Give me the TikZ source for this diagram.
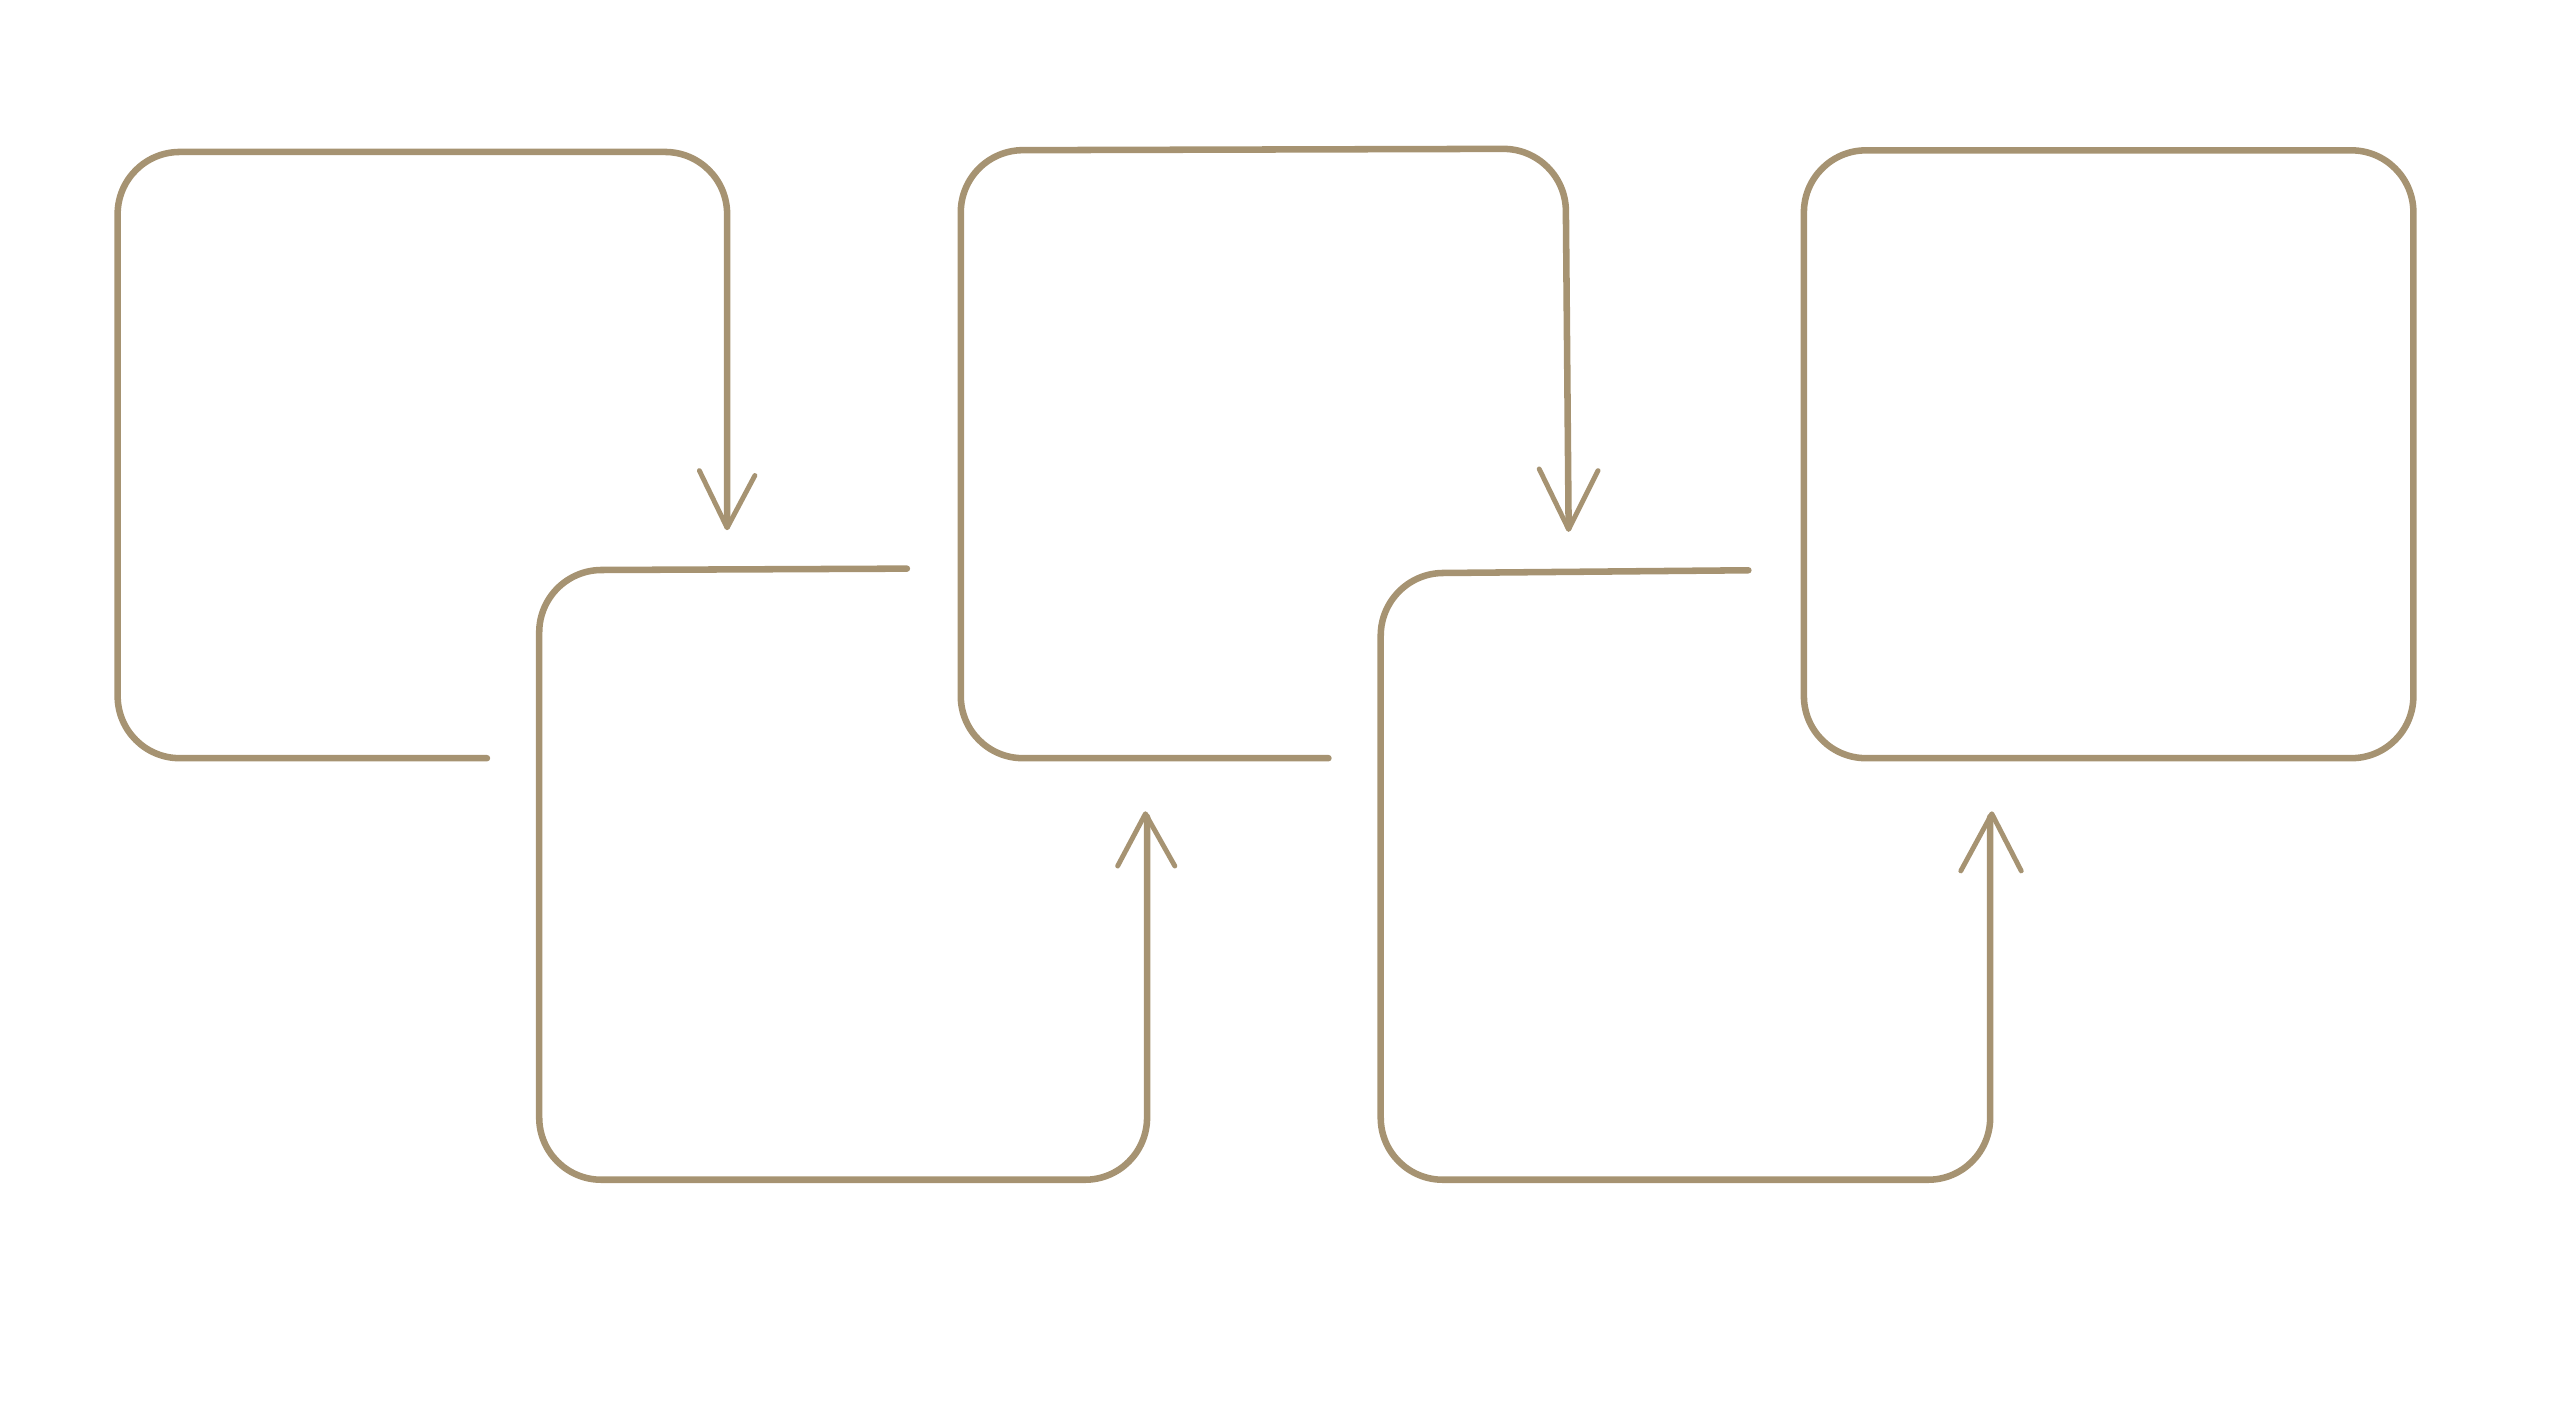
\documentclass[tikz,border=0pt]{standalone}
\definecolor{tan}{HTML}{A69372}
\begin{document}
\begin{tikzpicture}[x=1pt,y=-1pt,line width=4pt,
  ln/.style={draw=tan,line cap=round,line join=round,rounded corners=38pt},
  vee/.style={draw=tan,line width=3pt,line cap=round,line join=round}]
\useasboundingbox (0,0) rectangle (1560,860);
% box 1
\draw[ln] (298,464) -- (72,464) -- (72,93) -- (445,93) -- (445,322);
\draw[vee] (428,288) -- (445,323) -- (462,291);
% box 2
\draw[ln] (555,348) -- (330,349) -- (330,722) -- (702,722) -- (702,500);
\draw[vee] (684,530) -- (701,498) -- (719,530);
% box 3
\draw[ln] (813,464) -- (588,464) -- (588,92) -- (958,91) -- (960,323);
\draw[vee] (942,287) -- (960,324) -- (978,288);
% box 4
\draw[ln] (1070,349) -- (845,351) -- (845,722) -- (1218,722) -- (1218,500);
\draw[vee] (1200,533) -- (1219,498) -- (1237,533);
% box 5
\draw[ln] (1104,92) -- (1477,92) -- (1477,464) -- (1104,464) -- cycle;
\end{tikzpicture}
\end{document}
